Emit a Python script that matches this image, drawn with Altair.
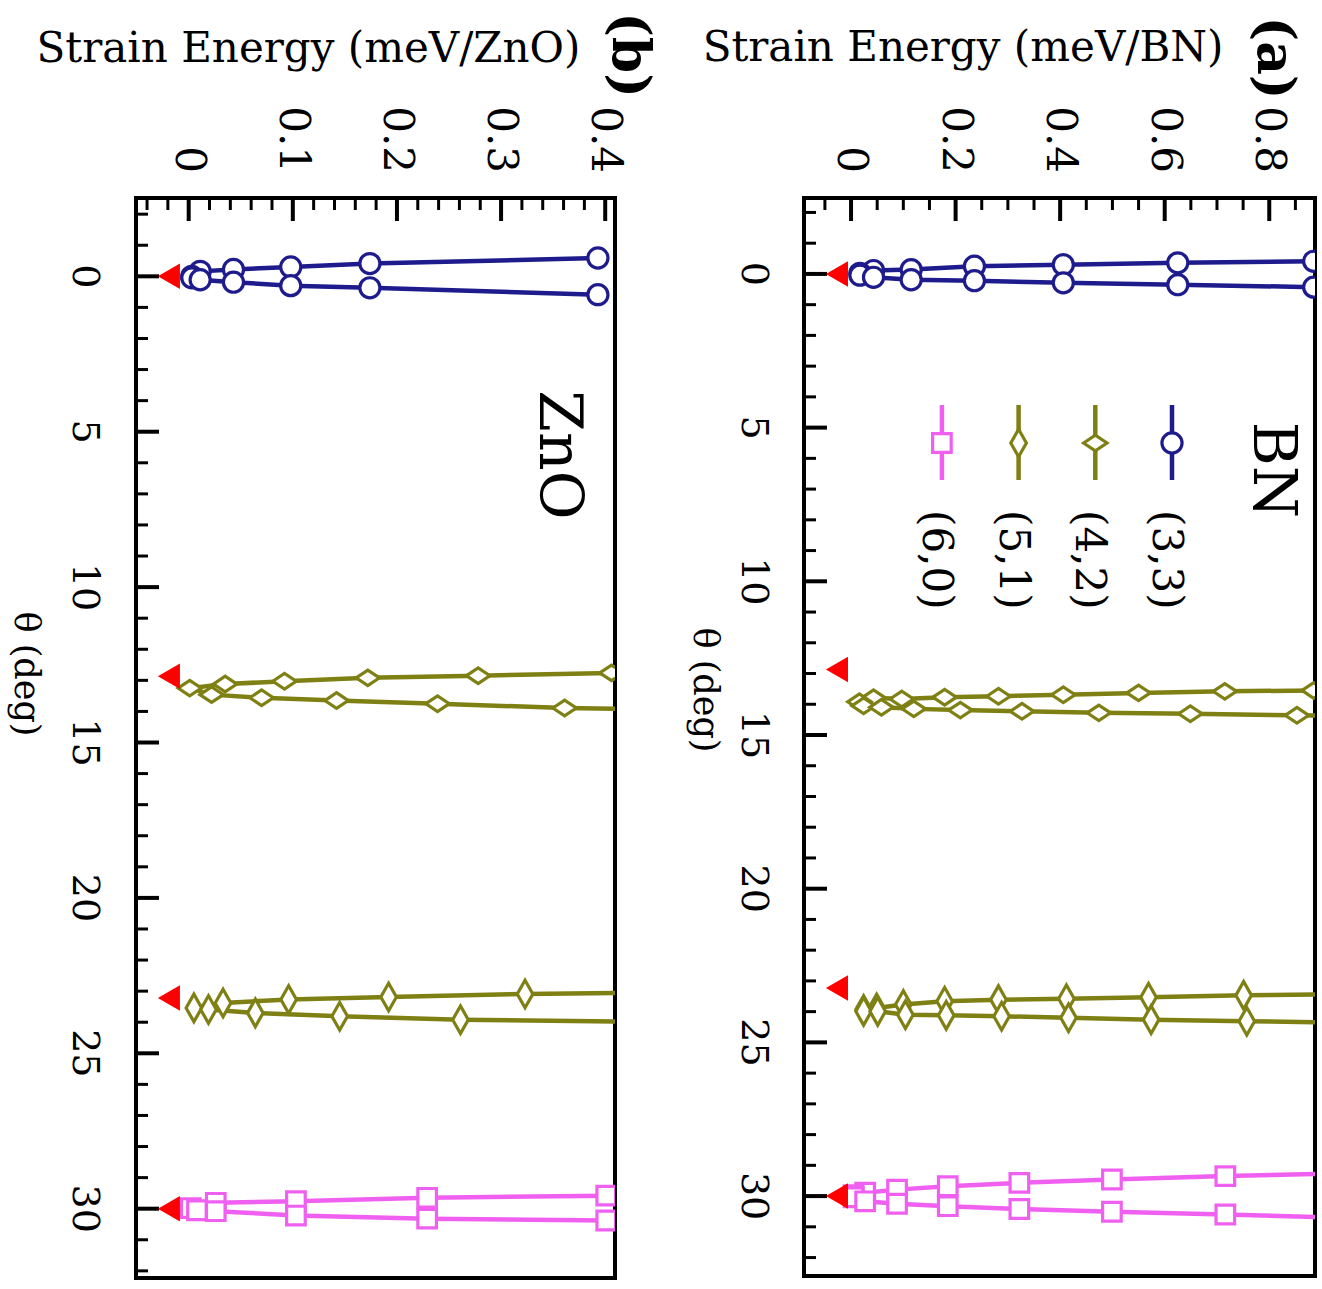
import altair as alt
import pandas as pd

FONT = "DejaVu Serif"
SERIES = ["(3,3)", "(4,2)", "(5,1)", "(6,0)"]
COLORS = ["#1e1b8c", "#7f8014", "#7f8014", "#f060f0"]
# custom symbol paths (unit = sqrt(size)/2 px)
SHAPES = [
    "M-0.335,0A0.335,0.335 0 1,0 0.335,0A0.335,0.335 0 1,0 -0.335,0Z",
    "M-0.39,0L0,-0.26L0.39,0L0,0.26Z",
    "M-0.26,0L0,-0.46L0.26,0L0,0.46Z",
    "M-0.31,-0.31L0.31,-0.31L0.31,0.31L-0.31,0.31Z",
]

# ---------------- Panel (a): BN ----------------
A33_E = [0.017, 0.043, 0.115, 0.236, 0.406, 0.625, 0.885]
A33_TH_UP = [-0.02, -0.11, -0.14, -0.25, -0.30, -0.36, -0.41]
A33_TH_LO = [0.04, 0.11, 0.19, 0.22, 0.29, 0.35, 0.43]

A42_E_UP = [0.016, 0.043, 0.097, 0.179, 0.282, 0.406, 0.550, 0.715, 0.885]
A42_TH_UP = [13.92, 13.79, 13.83, 13.77, 13.74, 13.69, 13.63, 13.58, 13.55]
A42_E_LO = [0.024, 0.058, 0.120, 0.209, 0.327, 0.474, 0.649, 0.853, 1.07]
A42_TH_LO = [14.05, 14.10, 14.15, 14.19, 14.23, 14.28, 14.31, 14.36, 14.42]

A51_E_UP = [0.024, 0.049, 0.100, 0.179, 0.282, 0.412, 0.569, 0.751, 0.96]
A51_TH_UP = [23.93, 23.88, 23.77, 23.66, 23.61, 23.58, 23.53, 23.47, 23.43]
A51_E_LO = [0.024, 0.051, 0.104, 0.182, 0.288, 0.416, 0.574, 0.757, 0.96]
A51_TH_LO = [23.99, 23.99, 24.10, 24.12, 24.15, 24.20, 24.26, 24.31, 24.36]

A60_E = [0.005, 0.027, 0.088, 0.185, 0.322, 0.499, 0.716, 0.93]
A60_TH_UP = [29.97, 29.89, 29.79, 29.68, 29.57, 29.46, 29.35, 29.26]
A60_TH_LO = [30.04, 30.17, 30.25, 30.33, 30.42, 30.51, 30.60, 30.70]

A_TRI_E = -0.027
A_TRI_TH = [0.0, 12.87, 23.23, 30.0]

# ---------------- Panel (b): ZnO ----------------
B33_E = [0.003, 0.011, 0.043, 0.098, 0.174, 0.393]
B33_TH_UP = [0.0, -0.16, -0.22, -0.30, -0.41, -0.59]
B33_TH_LO = [0.05, 0.11, 0.19, 0.30, 0.37, 0.59]

B42_E_UP = [0.001, 0.035, 0.092, 0.172, 0.278, 0.406]
B42_TH_UP = [13.25, 13.12, 13.03, 12.92, 12.85, 12.76]
B42_E_LO = [0.022, 0.070, 0.142, 0.239, 0.361, 0.45]
B42_TH_LO = [13.46, 13.56, 13.65, 13.75, 13.89, 13.93]

B51_E_UP = [0.005, 0.033, 0.096, 0.192, 0.323, 0.45]
B51_TH_UP = [23.54, 23.38, 23.27, 23.19, 23.09, 23.04]
B51_E_LO = [0.019, 0.064, 0.145, 0.261, 0.45]
B51_TH_LO = [23.59, 23.70, 23.81, 23.92, 23.99]

B60_E_UP = [0.002, 0.026, 0.103, 0.229, 0.401]
B60_TH_UP = [29.98, 29.81, 29.76, 29.65, 29.58]
B60_E_LO = [0.008, 0.026, 0.103, 0.229, 0.401]
B60_TH_LO = [30.05, 30.08, 30.22, 30.32, 30.38]

B_TRI_E = -0.019
B_TRI_TH = [0.0, 12.87, 23.22, 30.0]

A_TOP_MAJOR = [0, 0.2, 0.4, 0.6, 0.8]
A_TOP_LABELS = ["0", "0.2", "0.4", "0.6", "0.8"]
A_TOP_MINOR = [-0.05, 0.05, 0.1, 0.15, 0.25, 0.3, 0.35, 0.45, 0.5, 0.55, 0.65, 0.7, 0.75, 0.85]
B_TOP_MAJOR = [0, 0.1, 0.2, 0.3, 0.4]
B_TOP_LABELS = ["0", "0.1", "0.2", "0.3", "0.4"]
B_TOP_MINOR = [-0.04, -0.02, 0.02, 0.04, 0.06, 0.08, 0.12, 0.14, 0.16, 0.18, 0.22, 0.24,
               0.26, 0.28, 0.32, 0.34, 0.36, 0.38]
TH_MAJOR = [0, 5, 10, 15, 20, 25, 30]
TH_LABELS = ["0", "5", "10", "15", "20", "25", "30"]
TH_MINOR = [t for t in range(-2, 33) if t % 5 != 0]


def series_rows(name, e_up, th_up, e_lo, th_lo):
    rows = []
    ups = list(zip(e_up, th_up))[::-1]
    los = list(zip(e_lo, th_lo))
    for i, (e, t) in enumerate(ups + los):
        rows.append({"series": name, "E": e, "theta": t, "ord": i})
    return rows


def build_df(items):
    rows = []
    for it in items:
        rows += series_rows(*it)
    return pd.DataFrame(rows)


df_a = build_df([
    ("(3,3)", A33_E, A33_TH_UP, A33_E, A33_TH_LO),
    ("(4,2)", A42_E_UP, A42_TH_UP, A42_E_LO, A42_TH_LO),
    ("(5,1)", A51_E_UP, A51_TH_UP, A51_E_LO, A51_TH_LO),
    ("(6,0)", A60_E, A60_TH_UP, A60_E, A60_TH_LO),
])
df_b = build_df([
    ("(3,3)", B33_E, B33_TH_UP, B33_E, B33_TH_LO),
    ("(4,2)", B42_E_UP, B42_TH_UP, B42_E_LO, B42_TH_LO),
    ("(5,1)", B51_E_UP, B51_TH_UP, B51_E_LO, B51_TH_LO),
    ("(6,0)", B60_E_UP, B60_TH_UP, B60_E_LO, B60_TH_LO),
])


def txt(text, x, y, size, angle=0, align="center", baseline="middle", weight="normal"):
    return alt.Chart(pd.DataFrame({"t": [text]})).mark_text(
        angle=angle, font=FONT, fontSize=size, fontWeight=weight, align=align,
        baseline=baseline, color="black").encode(
        text="t:N", x=alt.value(x), y=alt.value(y))


def panel(df, tri_e, tri_th, xdom, ydom, w, h, top_major, top_labels, top_minor, title,
          title_xy, th_title_xy, left_lab_x, tag, tag_xy, name, name_xy, legend=False):
    xs = alt.Scale(domain=xdom, nice=False, zero=False)
    ys = alt.Scale(domain=ydom, nice=False, zero=False, reverse=True)
    base = alt.Chart(df)
    lines = base.mark_line(clip=True, strokeWidth=4.5).encode(
        x=alt.X("E:Q", scale=xs, axis=None),
        y=alt.Y("theta:Q", scale=ys, axis=None),
        color=alt.Color("series:N", scale=alt.Scale(domain=SERIES, range=COLORS), legend=None),
        detail="series:N",
        order="ord:Q",
    )
    pts = base.mark_point(clip=True, filled=True, fill="white", strokeWidth=3.2, size=3600,
                          opacity=1).encode(
        x=alt.X("E:Q", scale=xs, axis=None),
        y=alt.Y("theta:Q", scale=ys, axis=None),
        stroke=alt.Stroke("series:N", scale=alt.Scale(domain=SERIES, range=COLORS), legend=None),
        shape=alt.Shape("series:N", scale=alt.Scale(domain=SERIES, range=SHAPES), legend=None),
    )
    tri = alt.Chart(pd.DataFrame({"E": [tri_e] * len(tri_th), "theta": tri_th})).mark_point(
        shape="triangle-left", filled=True, color="#ff0000", size=650, opacity=1).encode(
        x=alt.X("E:Q", scale=xs, axis=None),
        y=alt.Y("theta:Q", scale=ys, axis=None),
    )
    tmaj = alt.Chart(pd.DataFrame({"v": top_major})).mark_rule(
        color="black", strokeWidth=4, strokeCap="butt").encode(
        x=alt.X("v:Q", scale=xs, axis=None), y=alt.value(0), y2=alt.value(23))
    tmin = alt.Chart(pd.DataFrame({"v": top_minor})).mark_rule(
        color="black", strokeWidth=3, strokeCap="butt").encode(
        x=alt.X("v:Q", scale=xs, axis=None), y=alt.value(0), y2=alt.value(12))
    lmaj = alt.Chart(pd.DataFrame({"v": TH_MAJOR})).mark_rule(
        color="black", strokeWidth=4, strokeCap="butt").encode(
        y=alt.Y("v:Q", scale=ys, axis=None), x=alt.value(0), x2=alt.value(23))
    lmin = alt.Chart(pd.DataFrame({"v": TH_MINOR})).mark_rule(
        color="black", strokeWidth=3, strokeCap="butt").encode(
        y=alt.Y("v:Q", scale=ys, axis=None), x=alt.value(0), x2=alt.value(12))
    # tick labels (rotated, as in the original figure)
    tlab = alt.Chart(pd.DataFrame({"v": top_major, "lab": top_labels})).mark_text(
        angle=90, font=FONT, fontSize=42, align="right", baseline="middle", color="black").encode(
        x=alt.X("v:Q", scale=xs, axis=None), y=alt.value(-25), text="lab:N")
    llab = alt.Chart(pd.DataFrame({"v": TH_MAJOR, "lab": TH_LABELS})).mark_text(
        angle=90, font=FONT, fontSize=38, align="center", baseline="middle", color="black").encode(
        y=alt.Y("v:Q", scale=ys, axis=None), x=alt.value(left_lab_x), text="lab:N")
    layers = [lines, lmin, lmaj, tmin, tmaj, pts, tri, tlab, llab,
              txt(title, title_xy[0], title_xy[1], 42, baseline="alphabetic"),
              txt("θ (deg)", th_title_xy[0], th_title_xy[1], 35, angle=90),
              txt(name, name_xy[0], name_xy[1], 60, angle=90),
              txt(tag, tag_xy[0], tag_xy[1], 52, angle=90, weight="bold")]
    if legend:
        step = 76.7
        x0 = 368
        ldf = pd.DataFrame({
            "label": SERIES,
            "lx": [x0 - i * step for i in range(len(SERIES))],
            "color": COLORS,
            "shape": SHAPES,
        })
        ldf["tx"] = ldf["lx"] - 6
        lb = alt.Chart(ldf)
        l_rule = lb.mark_rule(strokeWidth=4.5).encode(
            x=alt.X("lx:Q", scale=None, axis=None), y=alt.value(207), y2=alt.value(282),
            color=alt.Color("color:N", scale=None))
        l_pt = lb.mark_point(filled=True, fill="white", strokeWidth=3.2, size=3600, opacity=1).encode(
            x=alt.X("lx:Q", scale=None, axis=None), y=alt.value(245),
            stroke=alt.Stroke("color:N", scale=None), shape=alt.Shape("shape:N", scale=None))
        l_txt = lb.mark_text(angle=90, font=FONT, fontSize=42, align="left", baseline="middle",
                             color="black").encode(
            x=alt.X("tx:Q", scale=None, axis=None), y=alt.value(312), text="label:N")
        layers += [l_rule, l_pt, l_txt]
    return alt.layer(*layers).properties(width=w, height=h)


panel_b = panel(df_b, B_TRI_E, B_TRI_TH, [-0.0506, 0.4094], [-2.52, 32.23], 479, 1080,
                B_TOP_MAJOR, B_TOP_LABELS, B_TOP_MINOR, "Strain Energy (meV/ZnO)",
                (172.5, -136), (-110, 476), -52, "(b)", (493, -143), "ZnO", (422, 257))
panel_a = panel(df_a, A_TRI_E, A_TRI_TH, [-0.09, 0.8875], [-2.47, 32.6], 511, 1078,
                A_TOP_MAJOR, A_TOP_LABELS, A_TOP_MINOR, "Strain Energy (meV/BN)",
                (159, -137), (-99.5, 492), -51, "(a)", (470, -140), "BN", (468, 272),
                legend=True)

chart = alt.hconcat(panel_b, panel_a, spacing=27).properties(
    padding={"left": 6, "top": 10, "right": 5, "bottom": 5},
    background="white",
).configure_view(stroke="black", strokeWidth=4)

chart.save("out.html", embed_options={"renderer": "svg", "actions": False})
